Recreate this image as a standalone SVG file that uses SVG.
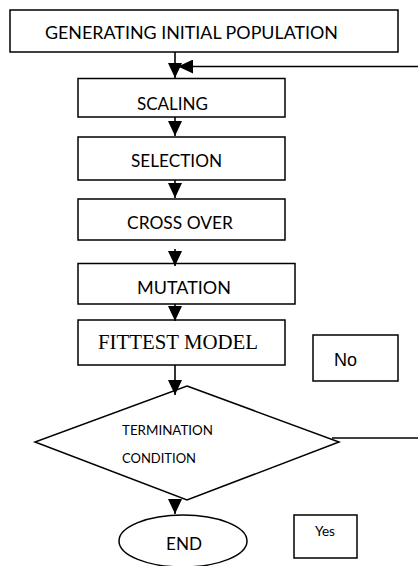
<svg xmlns="http://www.w3.org/2000/svg" width="418" height="566" viewBox="0 0 418 566">
  <style>
    .box { fill: #fff; stroke: #000; stroke-width: 1.5; }
    .lbl { font-family: Lato, "Open Sans", sans-serif; font-size: 17px; fill: #000; }
    .sm { font-family: Lato, "Open Sans", sans-serif; font-size: 14px; fill: #000; }
    .serif { font-family: "Liberation Serif", "Times New Roman", serif; font-size: 21px; fill: #000; }
    .sans { font-family: "Liberation Sans", Arial, sans-serif; font-size: 18px; fill: #000; }
    .wire { fill: none; stroke: #000; stroke-width: 1.6; }
  </style>
  <defs>
    <marker id="head" markerUnits="userSpaceOnUse" markerWidth="15" markerHeight="14" refX="15" refY="7" orient="auto">
      <path d="M0,0 L15,7 L0,14 Z" fill="#000"/>
    </marker>
  </defs>
  <rect width="418" height="566" fill="#fff"/>

  <g id="init">
    <rect class="box" x="10" y="10" width="388" height="42"/>
    <text class="lbl" x="45" y="39" textLength="293" lengthAdjust="spacingAndGlyphs">GENERATING INITIAL POPULATION</text>
  </g>
  <g id="scaling">
    <rect class="box" x="78" y="78.5" width="207" height="38.5"/>
    <text class="lbl" x="137" y="110" textLength="71" lengthAdjust="spacingAndGlyphs">SCALING</text>
  </g>
  <g id="selection">
    <rect class="box" x="78" y="137" width="207" height="43"/>
    <text class="lbl" x="131" y="167" textLength="91" lengthAdjust="spacingAndGlyphs">SELECTION</text>
  </g>
  <g id="crossover">
    <rect class="box" x="78" y="199" width="207" height="41"/>
    <text class="lbl" x="127" y="229" textLength="106" lengthAdjust="spacingAndGlyphs">CROSS OVER</text>
  </g>
  <g id="mutation">
    <rect class="box" x="78" y="263.5" width="217" height="40.5"/>
    <text class="lbl" x="137" y="294" textLength="94" lengthAdjust="spacingAndGlyphs">MUTATION</text>
  </g>
  <g id="fittest">
    <rect class="box" x="78" y="320" width="207" height="45"/>
    <text class="serif" x="98" y="349" textLength="160" lengthAdjust="spacingAndGlyphs">FITTEST MODEL</text>
  </g>
  <g id="no-label">
    <rect class="box" x="313" y="335" width="85" height="46"/>
    <text class="sans" x="334" y="366">No</text>
  </g>
  <g id="termination">
    <polygon class="box" points="187,386 339,442 187,500 35,442"/>
    <text class="sm" x="122" y="435" textLength="91" lengthAdjust="spacingAndGlyphs">TERMINATION</text>
    <text class="sm" x="122" y="463" textLength="74" lengthAdjust="spacingAndGlyphs">CONDITION</text>
  </g>
  <g id="end">
    <ellipse class="box" cx="183" cy="541" rx="64" ry="26"/>
    <text class="lbl" x="166" y="550" textLength="36" lengthAdjust="spacingAndGlyphs">END</text>
  </g>
  <g id="yes-label">
    <rect class="box" x="294" y="515" width="63" height="43"/>
    <text class="sm" x="315" y="536" font-size="13" textLength="20" lengthAdjust="spacingAndGlyphs">Yes</text>
  </g>

  <!-- flow lines drawn over the shapes so the heads stay visible -->
  <g id="connectors">
    <line class="wire" x1="175" y1="52" x2="175" y2="78" marker-end="url(#head)"/>
    <line class="wire" x1="418" y1="66.5" x2="178" y2="66.5" marker-end="url(#head)"/>
    <line class="wire" x1="175" y1="117" x2="175" y2="136" marker-end="url(#head)"/>
    <line class="wire" x1="175" y1="180" x2="175" y2="198" marker-end="url(#head)"/>
    <line class="wire" x1="175" y1="249" x2="175" y2="266" marker-end="url(#head)"/>
    <line class="wire" x1="175" y1="304" x2="175" y2="321" marker-end="url(#head)"/>
    <line class="wire" x1="175" y1="365" x2="175" y2="395" marker-end="url(#head)"/>
    <line class="wire" x1="175" y1="500" x2="175" y2="514" marker-end="url(#head)"/>
    <line class="wire" x1="332" y1="438" x2="418" y2="438"/>
  </g>
</svg>
